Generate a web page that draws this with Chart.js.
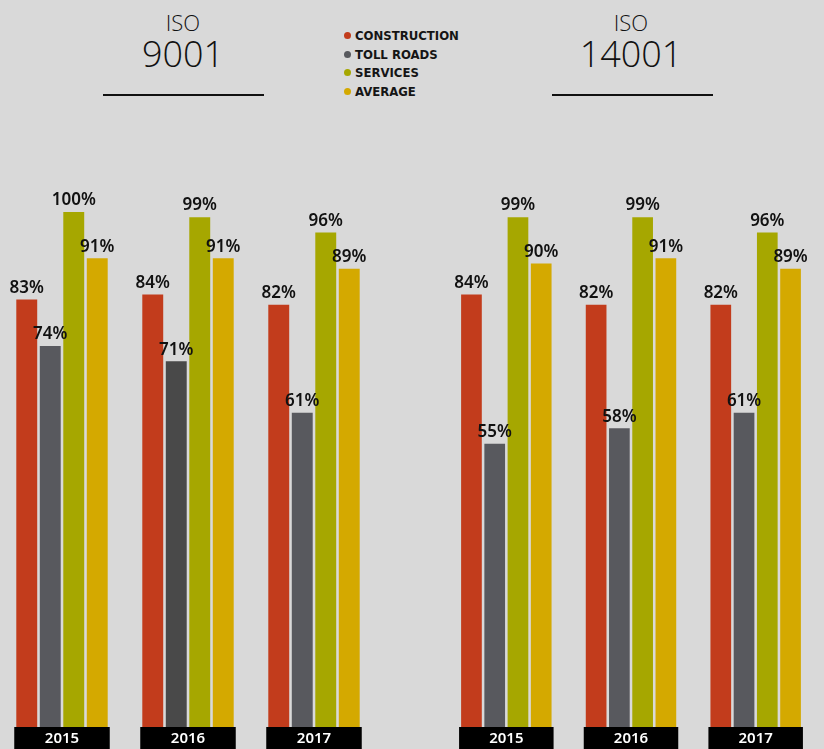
<!DOCTYPE html>
<html>
<head>
<meta charset="utf-8">
<script src="https://cdn.jsdelivr.net/npm/chart.js@4.4.0/dist/chart.umd.min.js"></script>
<style>
  html, body { margin: 0; padding: 0; }
  body { width: 824px; height: 749px; background: #d9d9d9; position: relative; overflow: hidden; font-family: "Noto Sans", sans-serif; }
  canvas { position: absolute; }
  .title { position: absolute; width: 200px; text-align: center; color: #111; font-family: "Open Sans", "Lato", sans-serif; font-weight: 300; }
  .title .iso { font-size: 22px; line-height: 22px; margin-top: 11px; }
  .title .num { font-size: 36px; line-height: 40px; margin-top: 1px; }
  .rule { position: absolute; height: 2px; background: #111; top: 94px; }
  .legend { position: absolute; left: 344px; top: 27px; font-family: "DejaVu Sans Condensed", "Liberation Sans Narrow", sans-serif; font-weight: bold; font-size: 13px; color: #151515; }
  .legend div { height: 18.7px; line-height: 18.7px; white-space: nowrap; }
  .legend span { display: inline-block; width: 7px; height: 7px; border-radius: 50%; margin-right: 4px; vertical-align: 1px; }
</style>
</head>
<body>

<div class="title" style="left:83px; top:0;"><div class="iso">ISO</div><div class="num">9001</div></div>
<div class="rule" style="left:103px; width:161px;"></div>
<div class="title" style="left:531px; top:0;"><div class="iso">ISO</div><div class="num">14001</div></div>
<div class="rule" style="left:552px; width:161px;"></div>

<div class="legend" id="legend"></div>

<canvas id="chart9001" width="378" height="640" style="left:-1px; top:109px;"></canvas>
<canvas id="chart14001" width="374" height="640" style="left:444px; top:109px;"></canvas>

<script>
// data
const years = ['2015', '2016', '2017'];
const seriesNames = ['CONSTRUCTION', 'TOLL ROADS', 'SERVICES', 'AVERAGE'];

const iso9001Construction = [83, 84, 82];
const iso9001TollRoads = [74, 71, 61];
const iso9001Services = [100, 99, 96];
const iso9001Average = [91, 91, 89];

const iso14001Construction = [84, 82, 82];
const iso14001TollRoads = [55, 58, 61];
const iso14001Services = [99, 99, 96];
const iso14001Average = [90, 91, 89];

const seriesColors = ['#c23c1c', '#58595e', '#a6a700', '#d4a900'];

// legend
const legend = document.getElementById('legend');
seriesNames.forEach((name, i) => {
  const row = document.createElement('div');
  row.innerHTML = '<span style="background:' + seriesColors[i] + '"></span>' + name;
  legend.appendChild(row);
});

// labels on top of the bars + year boxes under each group
const barDecor = {
  id: 'barDecor',
  afterDatasetsDraw(chart) {
    const ctx = chart.ctx;
    ctx.save();
    ctx.fillStyle = '#111';
    ctx.font = '600 17px "Noto Sans", sans-serif';
    ctx.textAlign = 'center';
    ctx.textBaseline = 'bottom';
    chart.data.datasets.forEach((ds, di) => {
      chart.getDatasetMeta(di).data.forEach((bar, i) => {
        ctx.fillText(ds.data[i] + '%', bar.x, bar.y - 3);
      });
    });

    const xs = chart.scales.x;
    const area = chart.chartArea;
    const boxW = xs.width / years.length * 0.75 + 1;
    years.forEach((y, i) => {
      const cx = xs.getPixelForValue(i);
      ctx.fillStyle = '#000';
      ctx.fillRect(cx - boxW / 2, area.bottom, boxW, 22);
      ctx.fillStyle = '#fff';
      ctx.font = '600 15px "Noto Sans", sans-serif';
      ctx.textBaseline = 'middle';
      ctx.fillText(y, cx, area.bottom + 12);
    });
    ctx.restore();
  }
};

function makeChart(id, values, tollColors) {
  return new Chart(document.getElementById(id), {
    type: 'bar',
    data: {
      labels: years,
      datasets: values.map((v, i) => ({
        label: seriesNames[i],
        data: v,
        backgroundColor: i === 1 && tollColors ? tollColors : seriesColors[i],
        categoryPercentage: 0.746,
        barPercentage: 0.89
      }))
    },
    options: {
      responsive: false,
      animation: false,
      layout: { padding: { top: 0, bottom: 22, left: 0, right: 0 } },
      scales: {
        x: { display: false },
        y: { display: false, min: 0, max: 120 }
      },
      plugins: {
        legend: { display: false },
        tooltip: { enabled: false }
      }
    },
    plugins: [barDecor]
  });
}

makeChart('chart9001',
  [iso9001Construction, iso9001TollRoads, iso9001Services, iso9001Average],
  ['#58595e', '#494949', '#58595e']);
makeChart('chart14001',
  [iso14001Construction, iso14001TollRoads, iso14001Services, iso14001Average]);
</script>
</body>
</html>
